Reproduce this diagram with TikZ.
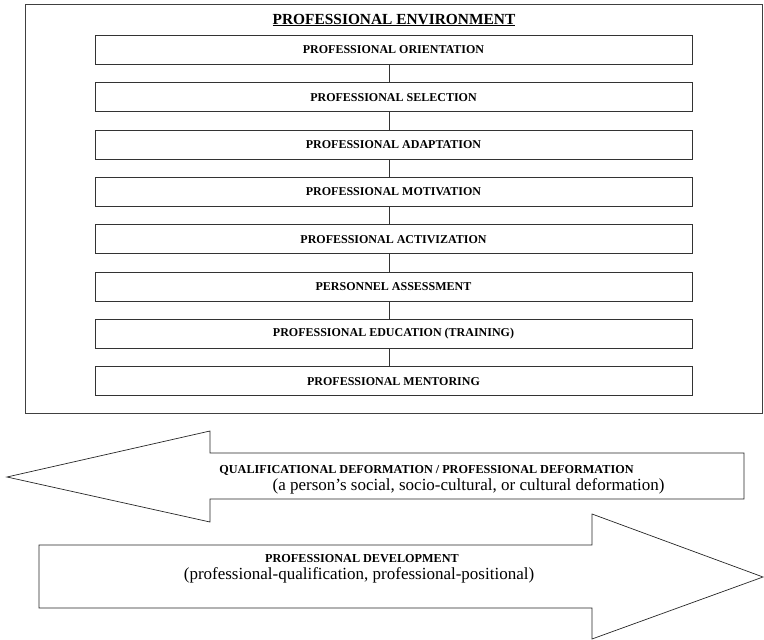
\documentclass[tikz,border=0pt]{standalone}
\usepackage{fontspec}
\setmainfont{Liberation Serif}
\usepackage{tikz}
\usetikzlibrary{matrix}

\tikzset{
	stage/.style={draw=black!80,line width=0.7pt,minimum width=597pt,minimum height=29pt,inner sep=0pt,font=\fontsize{12}{14}\selectfont\bfseries},
	bigarrow/.style={draw=black!85,line width=0.7pt,line join=miter},
	caps/.style={font=\fontsize{12.2}{14}\selectfont\bfseries,inner sep=0pt,anchor=base},
	plain/.style={font=\fontsize{17}{20}\selectfont,inner sep=0pt,anchor=base}
}

\begin{document}
\begin{tikzpicture}[x=1pt,y=-1pt]
	\useasboundingbox (0,0) rectangle (764,640);
	\draw [black!75,line width=1pt] (25,4) rectangle (762,413);
	\node [font=\fontsize{15.4}{18}\selectfont\bfseries,inner sep=0pt,anchor=base] (title) at (394,24) {\underline{PROFESSIONAL ENVIRONMENT}};
	\matrix [matrix of nodes,nodes={stage},row sep=17.66pt,ampersand replacement=\&] (m) at (393.5,215.5) {
  PROFESSIONAL ORIENTATION \\
  PROFESSIONAL SELECTION \\
  PROFESSIONAL ADAPTATION \\
  PROFESSIONAL MOTIVATION \\
  PROFESSIONAL ACTIVIZATION \\
  PERSONNEL ASSESSMENT \\
  PROFESSIONAL EDUCATION (TRAINING) \\
  PROFESSIONAL MENTORING \\
 };
	\foreach \i [count=\j from 2] in {1,...,7}
		\draw [black!80,line width=0.6pt] ([xshift=-4pt]m-\i-1.south) -- ([xshift=-4pt]m-\j-1.north);
	\draw [bigarrow] (744,453) -- (210,453) -- (210,431) -- (7,477) -- (210,522) -- (210,499) -- (744,499) -- cycle;
	\draw [bigarrow] (39,545) -- (592,545) -- (592,514) -- (763,577) -- (592,639) -- (592,608) -- (39,608) -- cycle;
	\node [caps] (deform) at (426.5,473) {QUALIFICATIONAL DEFORMATION / PROFESSIONAL DEFORMATION};
	\node [plain] (deformnote) at (468.5,490) {(a person’s social, socio-cultural, or cultural deformation)};
	\node [caps] (develop) at (362,562) {PROFESSIONAL DEVELOPMENT};
	\node [plain] (developnote) at (359,579) {(professional-qualification, professional-positional)};
\end{tikzpicture}
\end{document}
